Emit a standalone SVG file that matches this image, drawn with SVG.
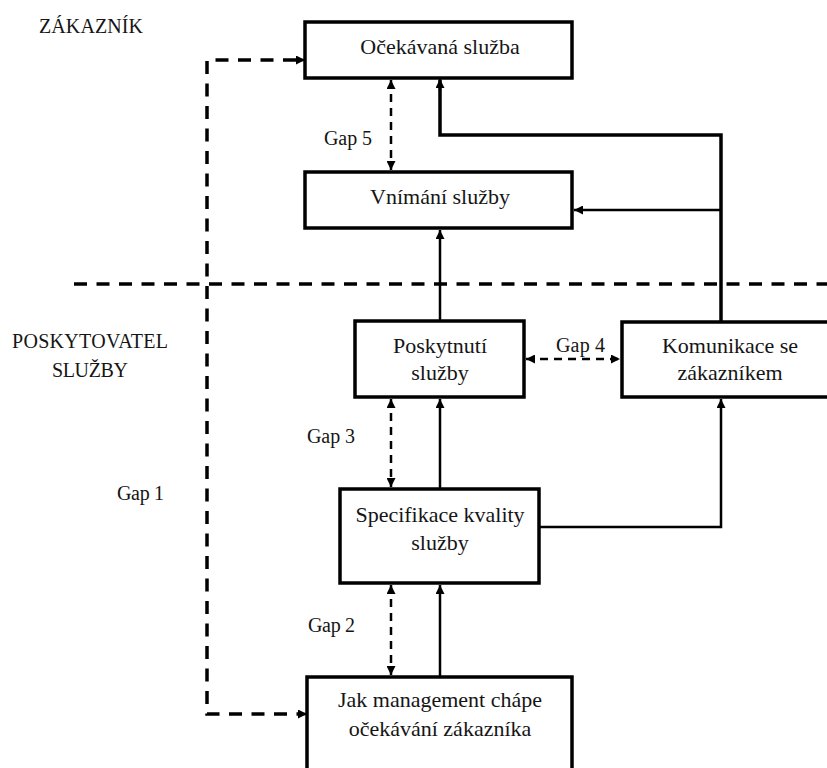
<svg xmlns="http://www.w3.org/2000/svg" width="827" height="768" viewBox="0 0 827 768">
<style>
.box{fill:#fff;stroke:#000;stroke-width:3.5}
.t{font-size:22px;fill:#151515;text-anchor:middle}
.lbl{font-size:20px;fill:#151515}
.solid{fill:none;stroke:#000;stroke-width:2.5}
.thick{fill:none;stroke:#000;stroke-width:3.5}
.heavy{fill:none;stroke:#000;stroke-width:3.5;stroke-dasharray:13 9.5}
.gap{fill:none;stroke:#000;stroke-width:2.5;stroke-dasharray:8 6}
</style>
<defs>
<marker id="ah" viewBox="0 0 10 10" refX="10" refY="5" markerWidth="10" markerHeight="9" markerUnits="userSpaceOnUse" orient="auto-start-reverse">
<path d="M0,0 L10,5 L0,10 z" fill="#000"/>
</marker>
</defs>
<g font-family="Liberation Serif, Times New Roman, serif">
<g id="labels">
<text class="lbl" x="39" y="33" textLength="104">ZÁKAZNÍK</text>
<text class="lbl" x="12" y="348" textLength="156">POSKYTOVATEL</text>
<text class="lbl" x="52" y="377" textLength="76">SLUŽBY</text>
<text class="lbl" x="117" y="500" textLength="47">Gap 1</text>
<text class="lbl" x="308" y="632" textLength="47">Gap 2</text>
<text class="lbl" x="307" y="443" textLength="48">Gap 3</text>
<text class="lbl" x="556" y="352" textLength="49">Gap 4</text>
<text class="lbl" x="324" y="145" textLength="48">Gap 5</text>
</g>
<g id="connectors">
<line class="heavy" x1="74" y1="284" x2="827" y2="284"/>
<path class="heavy" d="M296,60 H207 V714 H298"/>
<path class="solid" d="M298,60 H305" marker-end="url(#ah)"/>
<path class="solid" d="M300,714 H307" marker-end="url(#ah)"/>
<path class="thick" d="M721,322 V135 H440 V80"/>
<path class="solid" d="M440,90 V79" marker-end="url(#ah)"/>
<path class="solid" d="M721,210 H574" marker-end="url(#ah)"/>
<path class="solid" d="M440,321 V230" marker-end="url(#ah)"/>
<path class="solid" d="M440,489 V399" marker-end="url(#ah)"/>
<path class="solid" d="M539,527 H721 V399" marker-end="url(#ah)"/>
<path class="solid" d="M440,677 V585" marker-end="url(#ah)"/>
<path class="gap" d="M391,80 V170" marker-start="url(#ah)" marker-end="url(#ah)"/>
<path class="gap" d="M391,399 V487" marker-start="url(#ah)" marker-end="url(#ah)"/>
<path class="gap" d="M391,585 V675" marker-start="url(#ah)" marker-end="url(#ah)"/>
<path class="gap" d="M526,359 H620" marker-start="url(#ah)" marker-end="url(#ah)"/>
</g>
<g id="ocekavana">
<rect class="box" x="305" y="22" width="267" height="56"/>
<text class="t" x="440" y="54">Očekávaná služba</text>
</g>
<g id="vnimani">
<rect class="box" x="305" y="172" width="267" height="56"/>
<text class="t" x="440" y="204">Vnímání služby</text>
</g>
<g id="poskytnuti">
<rect class="box" x="355" y="321" width="169" height="76"/>
<text class="t" x="440" y="353">Poskytnutí</text>
<text class="t" x="440" y="380">služby</text>
</g>
<g id="komunikace">
<rect class="box" x="622" y="322" width="220" height="75"/>
<text class="t" x="730" y="353">Komunikace se</text>
<text class="t" x="730" y="380">zákazníkem</text>
</g>
<g id="specifikace">
<rect class="box" x="340" y="489" width="199" height="94"/>
<text class="t" x="440" y="522">Specifikace kvality</text>
<text class="t" x="440" y="550">služby</text>
</g>
<g id="jak">
<rect class="box" x="307" y="677" width="265" height="100"/>
<text class="t" x="440" y="707">Jak management chápe</text>
<text class="t" x="440" y="736">očekávání zákazníka</text>
</g>
</g>
</svg>
